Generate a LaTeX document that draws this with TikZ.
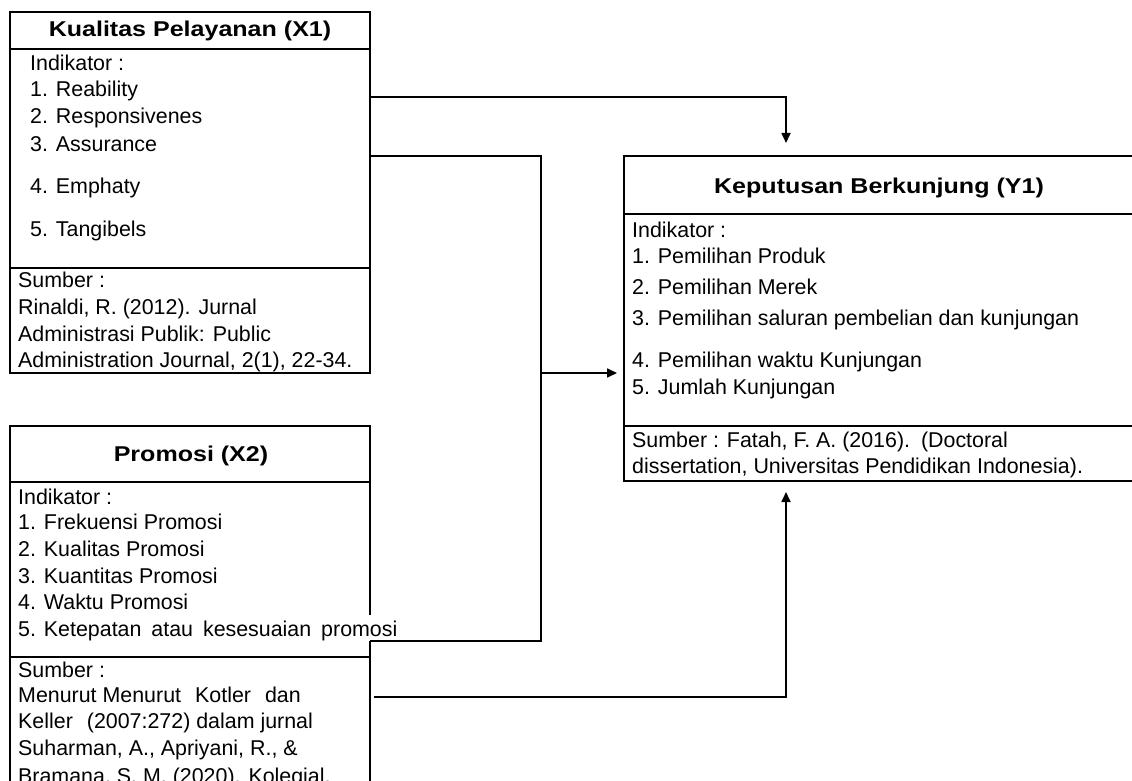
\documentclass[tikz,border=0pt]{standalone}
\usepackage{graphicx}
\usepackage{fontspec}
\setmainfont{Liberation Sans}
\usetikzlibrary{arrows.meta}
\begin{document}
\begin{tikzpicture}[x=1pt,y=-1pt,
  ln/.style={line width=1.7pt, black},
  arr/.style={ln, -{Triangle[length=10pt,width=9pt]}},
  txt/.style={anchor=base west, inner sep=0pt, font=\fontsize{21.4}{25}\selectfont},
  ttl/.style={anchor=base, inner sep=0pt, font=\fontsize{21.4}{25}\selectfont\bfseries},
  boxnode/.style={draw, line width=1.7pt, anchor=north west, inner sep=0pt, outer sep=0pt}]
\clip (0,0) rectangle (1132,781);
\fill[white] (0,0) rectangle (1132,781);

% ---------- boxes ----------
\node[boxnode, minimum width=360pt, minimum height=361pt] (x1) at (10,12) {};
\node[boxnode, minimum width=360pt, minimum height=380pt] (x2) at (10,426) {};
\node[boxnode, minimum width=530pt, minimum height=325pt] (y1) at (624,156) {};

% separators
\draw[ln] (10,49) -- (370,49);
\draw[ln] (10,268) -- (370,268);
\draw[ln] (10,482) -- (370,482);
\draw[ln] (10,657) -- (370,657);
\draw[ln] (624,214) -- (1132,214);
\draw[ln] (624,426) -- (1132,426);

% ---------- X1 text ----------
\node[ttl] (x1t) at (190,37) {\scalebox{1.17}[1]{Kualitas Pelayanan (X1)}};
\node[txt] (x1a) at (30,71) {Indikator :};
\node[txt] (x1b) at (30,97) {1. Reability};
\node[txt] (x1c) at (30,124) {2. Responsivenes};
\node[txt] (x1d) at (30,151) {3. Assurance};
\node[txt] (x1e) at (30,193) {4. Emphaty};
\node[txt] (x1f) at (30,236) {5. Tangibels};
\node[txt] (x1g) at (18,287) {Sumber :};
\node[txt] (x1h) at (18,314) {Rinaldi, R. (2012). Jurnal};
\node[txt] (x1i) at (18,341) {Administrasi Publik: Public};
\node[txt] (x1j) at (18,367) {Administration Journal, 2(1), 22-34.};

% ---------- X2 text ----------
\node[ttl] (x2t) at (191,461) {\scalebox{1.17}[1]{Promosi (X2)}};
\node[txt] (x2a) at (18,504) {Indikator :};
\node[txt] (x2b) at (18,529) {1. Frekuensi Promosi};
\node[txt] (x2c) at (18,556) {2. Kualitas Promosi};
\node[txt] (x2d) at (18,583) {3. Kuantitas Promosi};
\node[txt] (x2e) at (18,609) {4. Waktu Promosi};
\node[txt, fill=white, text height=21pt, text depth=5pt] (x2f) at (18,636) {5. Ketepatan\hspace*{4pt} atau\hspace*{4pt} kesesuaian\hspace*{4pt} promosi};
\node[txt] (x2g) at (18,677) {Sumber :};
\node[txt] (x2h) at (18,702) {Menurut Menurut\hspace*{14pt}Kotler\hspace*{14pt}dan};
\node[txt] (x2i) at (18,728) {Keller\hspace*{14pt}(2007:272) dalam jurnal};
\node[txt] (x2j) at (18,755) {Suharman, A., Apriyani, R., \&};
\node[txt] (x2k) at (18,783) {Bramana, S. M. (2020). Kolegial,};

% ---------- Y1 text ----------
\node[ttl] (y1t) at (879,193) {\scalebox{1.17}[1]{Keputusan Berkunjung (Y1)}};
\node[txt] (y1a) at (632,237) {Indikator :};
\node[txt] (y1b) at (632,263) {1. Pemilihan Produk};
\node[txt] (y1c) at (632,294) {2. Pemilihan Merek};
\node[txt] (y1d) at (632,325) {3. Pemilihan saluran pembelian dan kunjungan};
\node[txt] (y1e) at (632,367) {4. Pemilihan waktu Kunjungan};
\node[txt] (y1f) at (632,394) {5. Jumlah Kunjungan};
\node[txt] (y1g) at (632,447) {Sumber : Fatah, F. A. (2016).\hspace*{5pt} (Doctoral};
\node[txt] (y1h) at (632,473) {dissertation, Universitas Pendidikan Indonesia).};

% ---------- connectors ----------
\coordinate (k1) at (370,97);
\coordinate (t1) at (786,143);
\draw[arr] (k1) -| (t1);

\coordinate (k2) at (370,156);
\coordinate (j1) at (541,156);
\coordinate (j2) at (541,641);
\coordinate (k3) at (370,641);
\draw[ln] (k2) -- (j1) -- (j2) -- (k3);

\coordinate (m1) at (541,373);
\coordinate (t2) at (617,373);
\draw[arr] (m1) -- (t2);

\coordinate (k4) at (374,697);
\coordinate (t3) at (786,492);
\draw[arr] (k4) -| (t3);
\end{tikzpicture}
\end{document}
